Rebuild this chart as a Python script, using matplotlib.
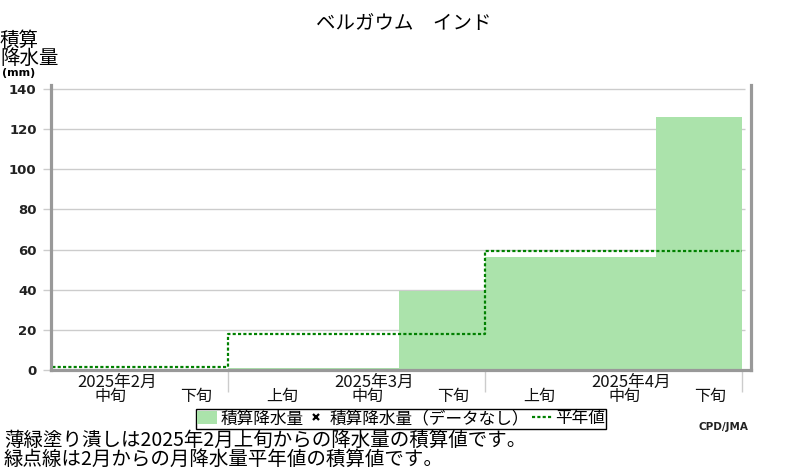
import matplotlib.pyplot as plt
import matplotlib.transforms as mtransforms
from matplotlib.patches import Patch
from matplotlib.lines import Line2D

plt.rcParams['font.family'] = ['Noto Sans CJK JP', 'DejaVu Sans']

# dekads from 2025 Feb 上旬 (index 0) to Apr 下旬 (index 8)
dekad_names = ['上旬', '中旬', '下旬'] * 3
month_names = ['2025年2月', '2025年3月', '2025年4月']
accum = [0, 0, 0, 1, 1, 39.4, 56.5, 56.5, 126.3]   # 積算降水量 (mm)
normal = [1.5, 17.8, 59.5]                         # 平年値の積算 (mm), per month
yticks = [0, 20, 40, 60, 80, 100, 120, 140]

fill_col = '#abe3ab'
line_col = '#008000'
spine_col = '#999999'
grid_col = '#cccccc'

fig = plt.figure(figsize=(8, 4.7), dpi=100)
ax = fig.add_axes([50.5 / 800, 100 / 470, 700 / 800, 285 / 470])
x0, x1 = 0.928, 9.1
ax.set_xlim(x0, x1)
ax.set_ylim(0, 142)

# grid
ax.hlines(yticks, x0, 9.04, color=grid_col, lw=1, zorder=0)

# accumulated precipitation
ax.bar(range(len(accum)), accum, width=1, align='edge', color=fill_col,
       linewidth=0, zorder=1)

# accumulated normal, stepwise by month
edges = [0, 3, 6, 9]
ax.step(edges, normal + [normal[-1]], where='post', color=line_col, lw=1.6,
        linestyle=(0, (1.4, 1)), zorder=3)

ax.spines['top'].set_visible(False)
for side in ['left', 'bottom', 'right']:
    ax.spines[side].set_color(spine_col)
    ax.spines[side].set_linewidth(2.3)
    ax.spines[side].set_zorder(4)

ax.set_yticks(yticks)
ax.set_yticklabels([str(v) for v in yticks], fontfamily='DejaVu Sans',
                   fontweight='bold', fontsize=9.5, color='#222222')
ax.tick_params(axis='y', length=6, width=1, color=grid_col, pad=4)
ax.set_xticks([3, 6, 9])
ax.set_xticklabels([])
ax.tick_params(axis='x', length=16, width=1, color=grid_col)

trans = mtransforms.blended_transform_factory(ax.transData, ax.transAxes)
for i, name in enumerate(dekad_names):
    xc = i + 0.5 + 0.13
    if x0 < xc < x1:
        ax.annotate(name, xy=(xc, 0), xycoords=trans, xytext=(0, -26),
                    textcoords='offset pixels', ha='center', va='center',
                    fontsize=11.5, color='#111111')
for m, name in enumerate(month_names):
    xc = m * 3 + 1.5 + 0.21
    ax.annotate(name, xy=(xc, 0), xycoords=trans, xytext=(0, -12),
                textcoords='offset pixels', ha='center', va='center',
                fontsize=12, color='#111111')

fig.text(404 / 800, 1 - 23 / 470, 'ベルガウム　インド', ha='center', va='center',
         fontsize=14)
fig.text(0, 1 - 40 / 470, '積算', ha='left', va='center', fontsize=14)
fig.text(0, 1 - 58 / 470, '降水量', ha='left', va='center', fontsize=14)
fig.text(2 / 800, 1 - 73 / 470, '(mm)', ha='left', va='center', fontsize=8,
         fontweight='bold', family='DejaVu Sans')

handles = [Patch(facecolor=fill_col, edgecolor='none'),
           Line2D([], [], marker='x', color='black', linestyle='none',
                  markersize=5, markeredgewidth=1.6),
           Line2D([], [], color=line_col, lw=1.6, linestyle=(0, (1.4, 1)))]
labels = ['積算降水量', '積算降水量（データなし）', '平年値']
leg = fig.legend(handles, labels, loc='center', ncol=3,
                 bbox_to_anchor=(401 / 800, 1 - 419 / 470), fontsize=12,
                 frameon=True, fancybox=False, framealpha=1, edgecolor='black',
                 borderpad=0.1, handlelength=1.2, handletextpad=0.2,
                 columnspacing=0.15, borderaxespad=0, handleheight=0.8)
leg.get_frame().set_linewidth(1)

fig.text(748 / 800, 1 - 427 / 470, 'CPD/JMA', ha='right', va='center',
         fontsize=7.5, fontweight='bold', family='DejaVu Sans', color='#222222')
fig.text(4 / 800, 1 - 440 / 470, '薄緑塗り潰しは2025年2月上旬からの降水量の積算値です。',
         ha='left', va='center', fontsize=14)
fig.text(4 / 800, 1 - 459 / 470, '緑点線は2月からの月降水量平年値の積算値です。',
         ha='left', va='center', fontsize=14)

fig.savefig('out.png', dpi=100)
